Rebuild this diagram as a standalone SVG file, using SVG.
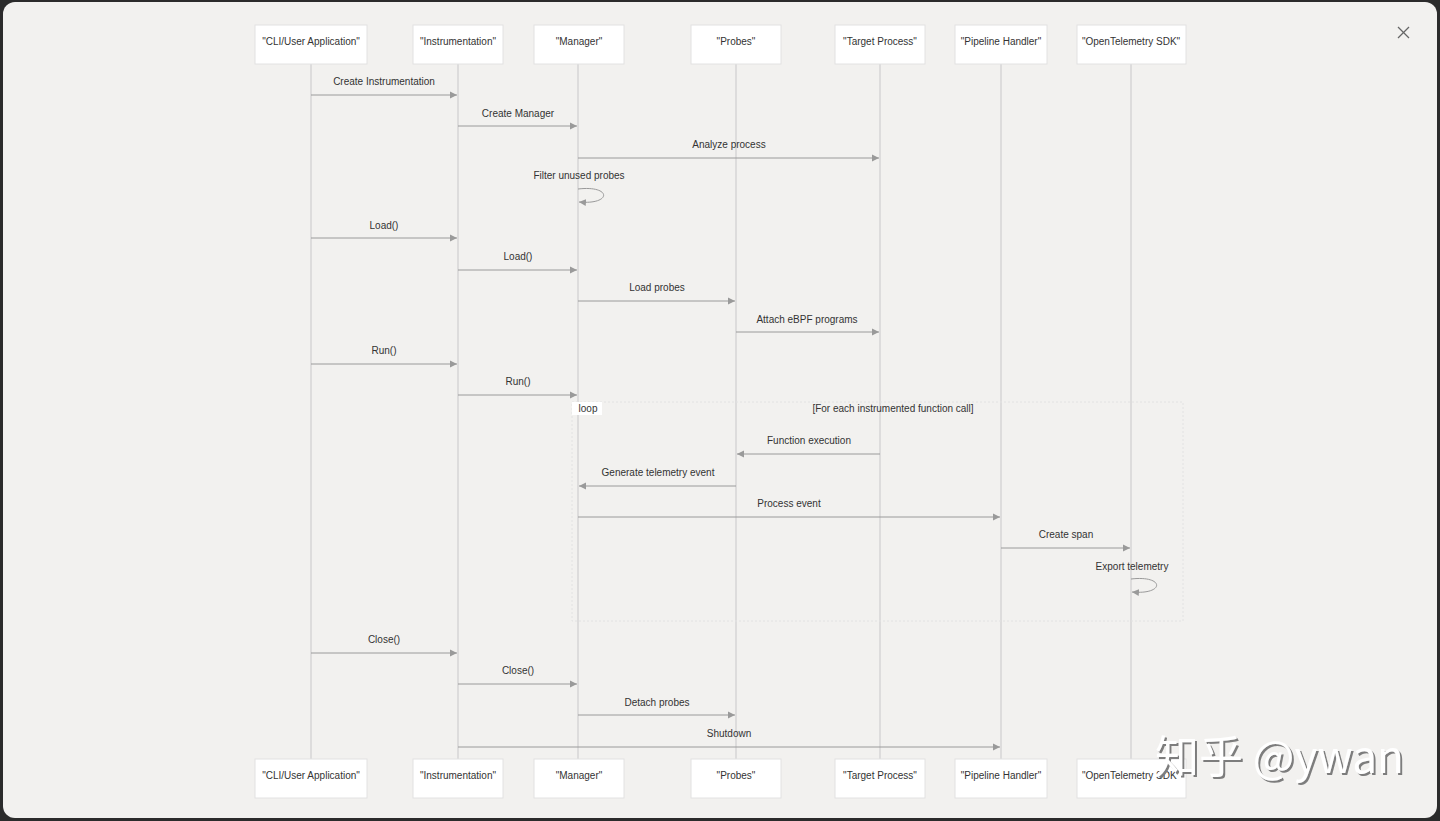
<svg xmlns="http://www.w3.org/2000/svg" width="1440" height="821" viewBox="0 0 1440 821">
<defs>
<marker id="ah" markerWidth="8" markerHeight="8" refX="7" refY="4" orient="auto" markerUnits="userSpaceOnUse">
<path d="M0,0.5 L7,4 L0,7.5 Z" fill="#9a9a9a"/>
</marker>
<filter id="wmshadow" x="-5%" y="-20%" width="110%" height="140%">
<feDropShadow dx="2" dy="2" stdDeviation="0.6" flood-color="#7d7d7d" flood-opacity="1"/>
</filter>
</defs>
<style>
.box{fill:#ffffff;stroke:#e2e2e2;stroke-width:1}
.bt{font-family:"Liberation Sans",Arial,sans-serif;font-size:10px;fill:#333;text-anchor:middle}
.life{stroke:#cfcfcf;stroke-width:1.2}
.msg{stroke:#9a9a9a;stroke-width:1;fill:none;marker-end:url(#ah)}
.ml{font-family:"Liberation Sans",Arial,sans-serif;font-size:10px;fill:#333;text-anchor:middle}
.wm{font-family:"Noto Sans CJK SC","Liberation Sans",sans-serif;font-size:44px;fill:#ffffff;filter:url(#wmshadow)}
</style>
<rect x="0" y="0" width="1440" height="821" fill="#2b2b2b"/>
<rect x="3" y="2" width="1434" height="816" rx="12" fill="#f2f1ef"/>
<g id="close-icon" stroke="#666" stroke-width="1.2">
<line x1="1398" y1="27" x2="1409" y2="38"/>
<line x1="1409" y1="27" x2="1398" y2="38"/>
</g>
<g id="lifelines">
<line class="life" x1="311" y1="64" x2="311" y2="759"/>
<line class="life" x1="458" y1="64" x2="458" y2="759"/>
<line class="life" x1="578" y1="64" x2="578" y2="759"/>
<line class="life" x1="736" y1="64" x2="736" y2="759"/>
<line class="life" x1="880" y1="64" x2="880" y2="759"/>
<line class="life" x1="1001" y1="64" x2="1001" y2="759"/>
<line class="life" x1="1131" y1="64" x2="1131" y2="759"/>
</g>
<g id="loop">
<rect x="572" y="402" width="611" height="219" fill="none" stroke="#e2e2e2" stroke-width="1" stroke-dasharray="2,2"/>
<rect x="572" y="402" width="30" height="13" fill="#ffffff"/>
<text class="ml" x="588" y="412">loop</text>
<text class="ml" x="893" y="412">[For each instrumented function call]</text>
</g>
<g id="node-cli">
<rect class="box" x="255" y="25" width="112" height="39"/><text class="bt" x="311" y="45">"CLI/User Application"</text>
<rect class="box" x="255" y="759" width="112" height="39"/><text class="bt" x="311" y="779">"CLI/User Application"</text>
</g>
<g id="node-instrumentation">
<rect class="box" x="413" y="25" width="90" height="39"/><text class="bt" x="458" y="45">"Instrumentation"</text>
<rect class="box" x="413" y="759" width="90" height="39"/><text class="bt" x="458" y="779">"Instrumentation"</text>
</g>
<g id="node-manager">
<rect class="box" x="534" y="25" width="90" height="39"/><text class="bt" x="579" y="45">"Manager"</text>
<rect class="box" x="534" y="759" width="90" height="39"/><text class="bt" x="579" y="779">"Manager"</text>
</g>
<g id="node-probes">
<rect class="box" x="691" y="25" width="90" height="39"/><text class="bt" x="736" y="45">"Probes"</text>
<rect class="box" x="691" y="759" width="90" height="39"/><text class="bt" x="736" y="779">"Probes"</text>
</g>
<g id="node-target">
<rect class="box" x="835" y="25" width="90" height="39"/><text class="bt" x="880" y="45">"Target Process"</text>
<rect class="box" x="835" y="759" width="90" height="39"/><text class="bt" x="880" y="779">"Target Process"</text>
</g>
<g id="node-pipeline">
<rect class="box" x="955" y="25" width="92" height="39"/><text class="bt" x="1001" y="45">"Pipeline Handler"</text>
<rect class="box" x="955" y="759" width="92" height="39"/><text class="bt" x="1001" y="779">"Pipeline Handler"</text>
</g>
<g id="node-otel">
<rect class="box" x="1077" y="25" width="109" height="39"/><text class="bt" x="1131" y="45">"OpenTelemetry SDK"</text>
<rect class="box" x="1077" y="759" width="109" height="39"/><text class="bt" x="1131" y="779">"OpenTelemetry SDK"</text>
</g>
<g id="connectors">
<text class="ml" x="384" y="85">Create Instrumentation</text><line class="msg" x1="311" y1="95" x2="457" y2="95"/>
<text class="ml" x="518" y="117">Create Manager</text><line class="msg" x1="458" y1="126" x2="577" y2="126"/>
<text class="ml" x="729" y="148">Analyze process</text><line class="msg" x1="578" y1="158" x2="879" y2="158"/>
<text class="ml" x="579" y="179">Filter unused probes</text><path class="msg" d="M578,189 C612,185 612,205 579,202"/>
<text class="ml" x="384" y="229">Load()</text><line class="msg" x1="311" y1="238" x2="457" y2="238"/>
<text class="ml" x="518" y="260">Load()</text><line class="msg" x1="458" y1="270" x2="577" y2="270"/>
<text class="ml" x="657" y="291">Load probes</text><line class="msg" x1="578" y1="301" x2="735" y2="301"/>
<text class="ml" x="807" y="323">Attach eBPF programs</text><line class="msg" x1="736" y1="332" x2="879" y2="332"/>
<text class="ml" x="384" y="354">Run()</text><line class="msg" x1="311" y1="364" x2="457" y2="364"/>
<text class="ml" x="518" y="385">Run()</text><line class="msg" x1="458" y1="395" x2="577" y2="395"/>
<text class="ml" x="809" y="444">Function execution</text><line class="msg" x1="880" y1="454" x2="737" y2="454"/>
<text class="ml" x="658" y="476">Generate telemetry event</text><line class="msg" x1="736" y1="486" x2="579" y2="486"/>
<text class="ml" x="789" y="507">Process event</text><line class="msg" x1="578" y1="517" x2="1000" y2="517"/>
<text class="ml" x="1066" y="538">Create span</text><line class="msg" x1="1001" y1="548" x2="1130" y2="548"/>
<text class="ml" x="1132" y="570">Export telemetry</text><path class="msg" d="M1131,579 C1165,575 1165,595 1132,592"/>
<text class="ml" x="384" y="643">Close()</text><line class="msg" x1="311" y1="653" x2="457" y2="653"/>
<text class="ml" x="518" y="674">Close()</text><line class="msg" x1="458" y1="684" x2="577" y2="684"/>
<text class="ml" x="657" y="706">Detach probes</text><line class="msg" x1="578" y1="715" x2="735" y2="715"/>
<text class="ml" x="729" y="737">Shutdown</text><line class="msg" x1="458" y1="747" x2="1000" y2="747"/>
</g>
<g id="watermark">
<text class="wm" x="1155" y="773">知乎 @ywan</text>
</g>
</svg>
